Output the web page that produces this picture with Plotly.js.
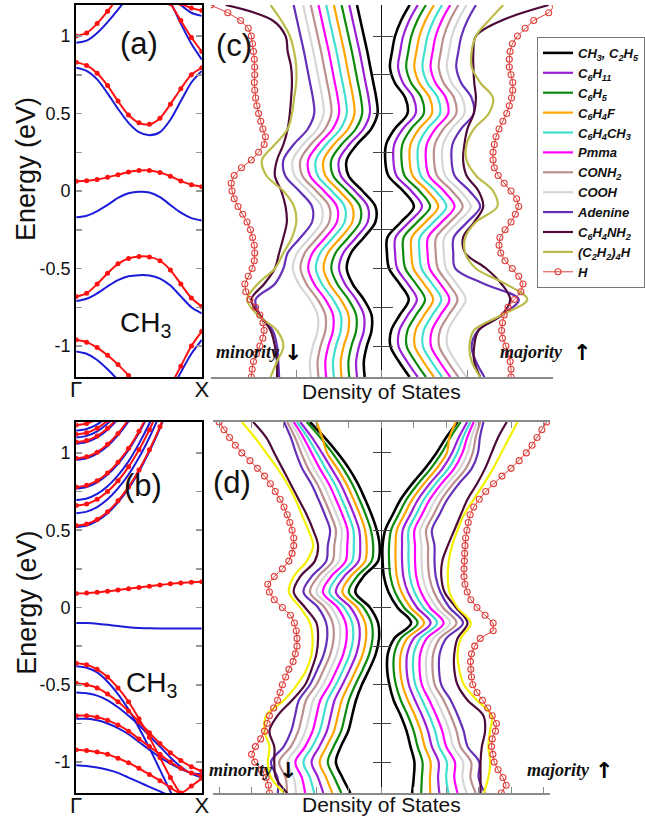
<!DOCTYPE html>
<html><head><meta charset="utf-8">
<script src="https://cdn.plot.ly/plotly-3.0.1.min.js"></script>
<style>html,body{margin:0;padding:0;background:#fff}#chart{width:645px;height:821px}</style>
</head><body><div id="chart"></div>
<script>
// ---------- grids ----------
const energyGrid = [1.2,1.1,1.0,0.9,0.8,0.7,0.6,0.5,0.4,0.3,0.2,0.1,0,-0.1,-0.2,-0.3,-0.4,-0.5,-0.6,-0.7,-0.8,-0.9,-1.0,-1.1,-1.2];
const energyFine = [1.2,1.15,1.1,1.05,1.0,0.95,0.9,0.85,0.8,0.75,0.7,0.65,0.6,0.55,0.5,0.45,0.4,0.35,0.3,0.25,0.2,0.15,0.1,0.05,0,-0.05,-0.1,-0.15,-0.2,-0.25,-0.3,-0.35,-0.4,-0.45,-0.5,-0.55,-0.6,-0.65,-0.7,-0.75,-0.8,-0.85,-0.9,-0.95,-1.0,-1.05,-1.1,-1.15,-1.2];
const kGrid = [0,0.083,0.167,0.25,0.333,0.417,0.5,0.583,0.667,0.75,0.833,0.917,1];
const kTickLabels = ['Γ','X'];

const seriesNames = ['CH<sub>3</sub>, C<sub>2</sub>H<sub>5</sub>','C<sub>6</sub>H<sub>11</sub>','C<sub>6</sub>H<sub>5</sub>','C<sub>6</sub>H<sub>4</sub>F','C<sub>6</sub>H<sub>4</sub>CH<sub>3</sub>','Pmma','CONH<sub>2</sub>','COOH','Adenine','C<sub>6</sub>H<sub>4</sub>NH<sub>2</sub>','(C<sub>2</sub>H<sub>2</sub>)<sub>4</sub>H','H'];

// ---------- band structure (a) ----------
const bandA_redMid = [0.063,0.066,0.074,0.088,0.105,0.122,0.132,0.133,0.12,0.095,0.065,0.04,0.028];
const bandA_blueMid = [-0.17,-0.16,-0.13,-0.09,-0.045,-0.015,-0.005,-0.01,-0.04,-0.09,-0.14,-0.175,-0.19];
const bandA_redCond = [0.83,0.81,0.76,0.68,0.58,0.49,0.44,0.43,0.47,0.56,0.66,0.75,0.795];
const bandA_blueCond = [0.795,0.775,0.72,0.63,0.53,0.44,0.38,0.36,0.38,0.46,0.58,0.70,0.775];
const bandA_redVal = [-0.68,-0.66,-0.6,-0.53,-0.47,-0.435,-0.422,-0.425,-0.45,-0.51,-0.6,-0.69,-0.745];
const bandA_blueVal = [-0.71,-0.695,-0.66,-0.615,-0.575,-0.55,-0.543,-0.545,-0.565,-0.61,-0.68,-0.75,-0.79];
const bandA_redTopL = [1.0,1.02,1.08,1.16,1.25,1.35,1.45];
const bandA_blueTopL = [0.957,0.97,1.02,1.09,1.17,1.26,1.35];
const bandA_redTopR = [1.32,1.21,1.1,0.99,0.9];
const bandA_blueTopR = [1.33,1.22,1.08,0.95,0.848];
const bandA_redTopR2 = [1.25,1.21,1.18,1.165];
const bandA_blueTopR2 = [1.26,1.2,1.15,1.13];
const bandA_redBotL = [-0.96,-0.975,-1.01,-1.06,-1.12,-1.19,-1.27];
const bandA_blueBotL = [-1.035,-1.05,-1.09,-1.15,-1.22,-1.3];
const bandA_redBotR = [-1.26,-1.13,-1.0,-0.905];
const bandA_blueBotR = [-1.3,-1.17,-1.05,-0.96];

// ---------- band structure (b) ----------
const bandB_redFlat = [0.09,0.093,0.098,0.105,0.113,0.122,0.13,0.138,0.146,0.153,0.159,0.163,0.166];
const bandB_blueFlat = [-0.1,-0.101,-0.105,-0.112,-0.12,-0.127,-0.132,-0.135,-0.136,-0.136,-0.136,-0.136,-0.136];
const bandB_redV1 = [-0.36,-0.37,-0.4,-0.45,-0.52,-0.61,-0.72,-0.84,-0.97,-1.1,-1.21,-1.33,-1.45];
const bandB_redV2 = [-0.49,-0.5,-0.52,-0.56,-0.61,-0.67,-0.74,-0.81,-0.88,-0.94,-0.99,-1.03,-1.06];
const bandB_redV3 = [-0.7,-0.7,-0.71,-0.73,-0.76,-0.8,-0.85,-0.9,-0.95,-1.0,-1.04,-1.07,-1.09];
const bandB_redV4 = [-0.92,-0.925,-0.935,-0.95,-0.975,-1.005,-1.04,-1.08,-1.12,-1.165,-1.2,-1.155,-1.105];
const bandB_blueV1 = [-0.38,-0.39,-0.42,-0.48,-0.56,-0.66,-0.78,-0.91,-1.05,-1.19,-1.32];
const bandB_blueV2 = [-0.55,-0.555,-0.57,-0.6,-0.645,-0.7,-0.76,-0.83,-0.9,-0.97,-1.03,-1.075,-1.1];
const bandB_blueV3 = [-0.72,-0.72,-0.73,-0.75,-0.78,-0.82,-0.87,-0.92,-0.97,-1.01,-1.045,-1.07,-1.08];
const bandB_blueV4 = [-1.02,-1.025,-1.035,-1.05,-1.07,-1.1,-1.13,-1.16,-1.19,-1.22];
const bandB_redC1 = [0.53,0.54,0.57,0.62,0.69,0.78,0.89,1.02,1.17,1.35];
const bandB_redC2 = [0.66,0.67,0.70,0.75,0.82,0.91,1.02,1.15,1.30];
const bandB_redC3 = [0.78,0.79,0.82,0.87,0.94,1.03,1.14,1.27];
const bandB_redC4 = [0.965,0.975,1.005,1.056,1.126,1.217,1.33];
const bandB_redC5 = [1.07,1.08,1.11,1.16,1.23,1.32];
const bandB_redC6 = [1.12,1.13,1.16,1.21,1.28];
const bandB_redC7 = [1.18,1.19,1.22,1.27];
const bandB_blueC1 = [0.52,0.53,0.56,0.61,0.68,0.77,0.88,1.01,1.16,1.34];
const bandB_blueC2 = [0.61,0.62,0.65,0.70,0.77,0.86,0.97,1.10,1.25];
const bandB_blueC3 = [0.695,0.705,0.735,0.785,0.855,0.945,1.06,1.19,1.34];
const bandB_blueC4 = [0.77,0.78,0.81,0.86,0.93,1.02,1.13,1.26];
const bandB_blueC5 = [0.955,0.965,0.995,1.045,1.115,1.205,1.32];
const bandB_blueC6 = [1.06,1.07,1.10,1.15,1.22,1.31];
const bandB_blueC7 = [1.10,1.11,1.14,1.19,1.26];
const bandB_blueC8 = [1.145,1.155,1.185,1.235];

// ---------- DOS (c), minority (left) ----------
const cL_CH3 = [-0.58,-0.50,-0.42,-0.34,-0.27,-0.20,-0.13,-0.10,-0.25,-0.58,-0.82,-0.78,-0.45,-0.15,-0.15,-0.42,-0.72,-0.82,-0.68,-0.42,-0.24,-0.24,-0.35,-0.42,-0.40];
const cL_C6H11 = [-0.76,-0.68,-0.60,-0.52,-0.45,-0.38,-0.31,-0.28,-0.43,-0.76,-1.00,-0.96,-0.63,-0.33,-0.33,-0.60,-0.90,-1.00,-0.86,-0.60,-0.42,-0.42,-0.53,-0.60,-0.58];
const cL_C6H5 = [-0.94,-0.86,-0.78,-0.70,-0.63,-0.56,-0.49,-0.46,-0.61,-0.94,-1.18,-1.14,-0.81,-0.51,-0.51,-0.78,-1.08,-1.18,-1.04,-0.78,-0.60,-0.60,-0.71,-0.78,-0.76];
const cL_C6H4F = [-1.12,-1.04,-0.96,-0.88,-0.81,-0.74,-0.67,-0.64,-0.79,-1.12,-1.36,-1.32,-0.99,-0.69,-0.69,-0.96,-1.26,-1.36,-1.22,-0.96,-0.78,-0.78,-0.89,-0.96,-0.94];
const cL_C6H4CH3 = [-1.30,-1.22,-1.14,-1.06,-0.99,-0.92,-0.85,-0.82,-0.97,-1.30,-1.54,-1.50,-1.17,-0.87,-0.87,-1.14,-1.44,-1.54,-1.40,-1.14,-0.96,-0.96,-1.07,-1.14,-1.12];
const cL_Pmma = [-1.48,-1.40,-1.32,-1.24,-1.17,-1.10,-1.03,-1.00,-1.15,-1.48,-1.72,-1.68,-1.35,-1.05,-1.05,-1.32,-1.62,-1.72,-1.58,-1.32,-1.14,-1.14,-1.25,-1.32,-1.30];
const cL_CONH2 = [-1.66,-1.58,-1.50,-1.42,-1.35,-1.28,-1.21,-1.18,-1.33,-1.66,-1.90,-1.86,-1.53,-1.23,-1.23,-1.50,-1.80,-1.90,-1.76,-1.50,-1.32,-1.32,-1.43,-1.50,-1.48];
const cL_COOH = [-1.84,-1.76,-1.68,-1.60,-1.53,-1.46,-1.39,-1.36,-1.51,-1.84,-2.08,-2.04,-1.71,-1.41,-1.41,-1.68,-1.98,-2.08,-1.94,-1.68,-1.50,-1.50,-1.61,-1.68,-1.66];
const cL_Adenine = [-2.06,-1.98,-1.90,-1.82,-1.75,-1.68,-1.61,-1.58,-1.73,-2.06,-2.30,-2.26,-1.93,-1.63,-1.63,-1.90,-2.20,-2.30,-2.50,-2.95,-2.85,-2.55,-2.45,-2.42,-2.40];
const cL_C6H4NH2 = [-3.65,-2.55,-2.25,-2.2,-2.12,-2.1,-2.12,-2.15,-2.2,-2.3,-2.45,-2.5,-2.35,-2.25,-2.22,-2.3,-2.4,-2.5,-2.75,-3.05,-2.85,-2.6,-2.5,-2.45,-2.45];
const cL_C2H2 = [-2.6,-2.35,-2.15,-2.05,-2.0,-2.0,-2.05,-2.1,-2.2,-2.5,-2.8,-2.7,-2.3,-2.05,-2.0,-2.1,-2.3,-2.5,-2.9,-3.15,-2.9,-2.45,-2.3,-2.45,-2.6];
const cL_H = [-4.0,-3.6,-3.3,-3.12,-3.05,-3.02,-3.0,-2.98,-2.97,-2.97,-2.98,-2.97,-2.95,-2.92,-2.88,-2.83,-2.78,-2.72,-2.75,-2.88,-3.05,-3.28,-3.45,-3.52,-3.5,-3.45,-3.36,-3.25,-3.15,-3.07,-3.02,-2.98,-2.97,-2.98,-3.03,-3.12,-3.2,-3.18,-3.08,-2.95,-2.85,-2.78,-2.75,-2.78,-2.85,-2.93,-3.0,-3.03,-3.05];

// ---------- DOS (c), majority (right) ----------
const cR_CH3 = [0.65,0.45,0.31,0.24,0.19,0.30,0.55,0.60,0.30,0.10,0.08,0.15,0.50,0.75,0.45,0.13,0.12,0.17,0.42,0.63,0.42,0.22,0.20,0.40,0.65];
const cR_C6H11 = [0.84,0.64,0.50,0.43,0.38,0.49,0.74,0.79,0.49,0.29,0.27,0.34,0.69,0.94,0.64,0.32,0.31,0.36,0.61,0.82,0.61,0.41,0.39,0.59,0.84];
const cR_C6H5 = [1.03,0.83,0.69,0.62,0.57,0.68,0.93,0.98,0.68,0.48,0.46,0.53,0.88,1.13,0.83,0.51,0.50,0.55,0.80,1.01,0.80,0.60,0.58,0.78,1.03];
const cR_C6H4F = [1.22,1.02,0.88,0.81,0.76,0.87,1.12,1.17,0.87,0.67,0.65,0.72,1.07,1.32,1.02,0.70,0.69,0.74,0.99,1.20,0.99,0.79,0.77,0.97,1.22];
const cR_C6H4CH3 = [1.41,1.21,1.07,1.00,0.95,1.06,1.31,1.36,1.06,0.86,0.84,0.91,1.26,1.51,1.21,0.89,0.88,0.93,1.18,1.39,1.18,0.98,0.96,1.16,1.41];
const cR_Pmma = [1.60,1.40,1.26,1.19,1.14,1.25,1.50,1.55,1.25,1.05,1.03,1.10,1.45,1.70,1.40,1.08,1.07,1.12,1.37,1.58,1.37,1.17,1.15,1.35,1.60];
const cR_CONH2 = [1.79,1.59,1.45,1.38,1.33,1.44,1.69,1.74,1.44,1.24,1.22,1.29,1.64,1.89,1.59,1.27,1.26,1.31,1.56,1.77,1.56,1.36,1.34,1.54,1.79];
const cR_COOH = [1.98,1.78,1.64,1.57,1.52,1.63,1.88,1.93,1.63,1.43,1.41,1.48,1.83,2.08,1.78,1.46,1.45,1.50,1.75,1.96,1.75,1.55,1.53,1.73,1.98];
const cR_Adenine = [2.20,2.00,1.86,1.79,1.74,1.85,2.10,2.15,1.85,1.65,1.63,1.70,2.05,2.30,2.00,1.68,1.67,1.72,2.40,3.20,2.80,2.25,2.10,2.20,2.40];
const cR_C6H4NH2 = [3.9,2.8,2.2,2.14,2.14,2.16,2.2,2.15,2.0,1.93,1.9,1.98,2.26,2.37,2.16,1.9,1.95,2.44,2.8,3.0,2.8,2.26,2.16,2.16,2.3];
const cR_C2H2 = [2.84,2.5,2.2,2.1,2.1,2.3,2.6,2.5,2.15,1.98,1.98,2.2,2.6,2.7,2.2,1.95,1.95,2.2,2.9,3.4,2.8,2.15,2.05,2.1,2.3];
const cR_H = [4.05,3.9,3.55,3.35,3.17,3.05,3.0,2.98,2.98,3.02,3.06,3.06,3.03,2.98,2.92,2.83,2.74,2.67,2.63,2.6,2.6,2.63,2.72,2.86,3.02,3.15,3.2,3.12,3.02,2.88,2.76,2.74,2.78,2.88,3.05,3.2,3.3,3.25,3.1,2.95,2.86,2.82,2.8,2.82,2.9,2.96,3.0,3.02,3.02];

// ---------- DOS (d), minority (left) ----------
const dL_CH3 = [-2.20,-1.75,-1.35,-1.00,-0.72,-0.50,-0.30,-0.14,-0.05,-0.10,-0.55,-0.80,-0.35,-0.10,-0.07,-0.17,-0.37,-0.60,-0.78,-0.90,-1.02,-1.25,-1.40,-1.20,-0.95];
const dL_C6H11 = [-2.50,-2.14,-1.83,-1.54,-1.26,-1.04,-0.84,-0.68,-0.65,-0.70,-1.15,-1.40,-0.95,-0.70,-0.67,-0.77,-0.97,-1.20,-1.44,-1.56,-1.68,-1.91,-2.15,-1.95,-1.79];
const dL_C6H5 = [-2.30,-1.88,-1.51,-1.18,-0.90,-0.68,-0.48,-0.32,-0.25,-0.30,-0.75,-1.00,-0.55,-0.30,-0.27,-0.37,-0.57,-0.80,-1.00,-1.12,-1.24,-1.47,-1.65,-1.45,-1.23];
const dL_C6H4F = [-2.00,-1.82,-1.67,-1.36,-1.08,-0.86,-0.66,-0.50,-0.45,-0.50,-0.95,-1.20,-0.75,-0.50,-0.47,-0.57,-0.77,-1.00,-1.22,-1.34,-1.46,-1.69,-1.90,-1.70,-1.51];
const dL_C6H4CH3 = [-2.60,-2.27,-1.99,-1.72,-1.44,-1.22,-1.02,-0.86,-0.85,-0.90,-1.35,-1.60,-1.15,-0.90,-0.87,-0.97,-1.17,-1.40,-1.66,-1.78,-1.90,-2.13,-2.40,-2.20,-2.07];
const dL_Pmma = [-2.70,-2.40,-2.15,-1.90,-1.62,-1.40,-1.20,-1.04,-1.05,-1.10,-1.55,-1.80,-1.35,-1.10,-1.07,-1.17,-1.37,-1.60,-1.88,-2.00,-2.12,-2.35,-2.65,-2.45,-2.35];
const dL_CONH2 = [-2.90,-2.66,-2.47,-2.26,-1.98,-1.76,-1.56,-1.40,-1.45,-1.50,-1.95,-2.20,-1.75,-1.50,-1.47,-1.57,-1.77,-2.00,-2.32,-2.44,-2.56,-2.79,-3.15,-2.95,-2.91];
const dL_COOH = [-2.80,-2.53,-2.31,-2.08,-1.80,-1.58,-1.38,-1.22,-1.25,-1.30,-1.75,-2.00,-1.55,-1.30,-1.27,-1.37,-1.57,-1.80,-2.10,-2.22,-2.34,-2.57,-2.90,-2.70,-2.63];
const dL_Adenine = [-3.00,-2.79,-2.63,-2.44,-2.16,-1.94,-1.74,-1.58,-1.65,-1.70,-2.15,-2.40,-1.95,-1.70,-1.67,-1.77,-1.97,-2.20,-2.54,-2.66,-2.78,-3.01,-3.40,-3.20,-3.19];
const dL_C6H4NH2 = [-3.95,-3.55,-3.3,-3.05,-2.8,-2.55,-2.3,-2.1,-1.95,-2.05,-2.5,-2.7,-2.35,-2.0,-1.95,-2.0,-2.15,-2.35,-2.75,-3.2,-3.45,-3.3,-3.3,-3.25,-2.9];
const dL_C2H2 = [-4.3,-3.9,-3.55,-3.2,-2.9,-2.65,-2.45,-2.25,-2.1,-2.3,-2.7,-2.85,-2.5,-2.2,-2.12,-2.15,-2.3,-2.6,-3.0,-3.55,-3.6,-3.45,-3.5,-3.4,-3.0];
const dL_H = [-5.0,-4.85,-4.68,-4.5,-4.3,-4.05,-3.82,-3.6,-3.42,-3.27,-3.12,-3.0,-2.9,-2.82,-2.75,-2.7,-2.7,-2.75,-2.85,-3.05,-3.3,-3.5,-3.45,-3.3,-3.05,-2.8,-2.68,-2.62,-2.6,-2.6,-2.65,-2.72,-2.85,-2.95,-3.05,-3.12,-3.2,-3.32,-3.45,-3.52,-3.6,-3.72,-3.88,-4.0,-3.9,-3.7,-3.55,-3.48,-3.45];

// ---------- DOS (d), majority (right) ----------
const dR_CH3 = [2.35,2.00,1.70,1.35,0.95,0.60,0.35,0.12,0.04,0.04,0.08,0.22,0.50,0.92,0.40,0.20,0.18,0.25,0.38,0.60,0.78,0.90,1.02,1.00,0.95];
const dR_C6H11 = [2.65,2.39,2.18,1.89,1.49,1.14,0.89,0.66,0.64,0.64,0.68,0.82,1.10,1.52,1.00,0.80,0.78,0.85,1.04,1.26,1.44,1.56,1.77,1.75,1.79];
const dR_C6H5 = [2.45,2.13,1.86,1.53,1.13,0.78,0.53,0.30,0.24,0.24,0.28,0.42,0.70,1.12,0.60,0.40,0.38,0.45,0.60,0.82,1.00,1.12,1.27,1.25,1.23];
const dR_C6H4F = [2.30,2.10,2.02,1.71,1.31,0.96,0.71,0.48,0.44,0.44,0.48,0.62,0.90,1.32,0.80,0.60,0.58,0.65,0.82,1.04,1.22,1.34,1.52,1.50,1.51];
const dR_C6H4CH3 = [2.75,2.52,2.34,2.07,1.67,1.32,1.07,0.84,0.84,0.84,0.88,1.02,1.30,1.72,1.20,1.00,0.98,1.05,1.26,1.48,1.66,1.78,2.02,2.00,2.07];
const dR_Pmma = [2.85,2.65,2.50,2.25,1.85,1.50,1.25,1.02,1.04,1.04,1.08,1.22,1.50,1.92,1.40,1.20,1.18,1.25,1.48,1.70,1.88,2.00,2.27,2.25,2.35];
const dR_CONH2 = [3.05,2.91,2.82,2.61,2.21,1.86,1.61,1.38,1.44,1.44,1.48,1.62,1.90,2.32,1.80,1.60,1.58,1.65,1.92,2.14,2.32,2.44,2.77,2.75,2.91];
const dR_COOH = [2.95,2.78,2.66,2.43,2.03,1.68,1.43,1.20,1.24,1.24,1.28,1.42,1.70,2.12,1.60,1.40,1.38,1.45,1.70,1.92,2.10,2.22,2.52,2.50,2.63];
const dR_Adenine = [3.15,3.04,2.98,2.79,2.39,2.04,1.79,1.56,1.64,1.64,1.68,1.82,2.10,2.52,2.00,1.80,1.78,1.85,2.14,2.36,2.54,2.66,3.02,3.00,3.19];
const dR_C6H4NH2 = [3.87,3.6,3.4,3.2,2.95,2.66,2.45,2.25,2.05,1.88,1.85,1.95,2.3,2.66,2.35,2.25,2.25,2.35,2.66,3.15,3.2,3.1,3.06,3.06,3.06];
const dR_C2H2 = [4.2,3.95,3.7,3.45,3.16,2.85,2.55,2.35,2.18,2.08,2.05,2.1,2.35,2.76,2.45,2.35,2.4,2.55,2.95,3.4,3.35,3.3,3.36,3.3,3.16];
const dR_H = [5.1,4.95,4.8,4.65,4.47,4.25,4.0,3.72,3.46,3.22,3.02,2.85,2.74,2.68,2.64,2.6,2.58,2.57,2.56,2.55,2.55,2.58,2.65,2.76,2.95,3.2,3.45,3.45,3.05,2.88,2.78,2.75,2.76,2.78,2.82,2.95,3.12,3.28,3.42,3.55,3.52,3.42,3.4,3.44,3.48,3.6,3.75,3.85,3.7];

// ---------- styles ----------
const colorsC = ['#000000','#9a1fd6','#0b8a0b','#ffa500','#40e0d0','#ff00ff','#bc8f8f','#d6d6d6','#6430b8','#4e0a38','#bcbc4a','#e0403c'];
const colorsD = ['#000000','#9a1fd6','#0b8a0b','#ffa500','#40e0d0','#ff00ff','#bc8f8f','#d6d6d6','#6430b8','#4e0a38','#f5f000','#e0403c'];
const RED = '#ff1010', BLUE = '#1c1cd8';
const SANS = 'Liberation Sans, Arial, sans-serif';

const traces = [];

const dosPanels = [
  {xa:'x3', ya:'y3', colors:colorsC, legend:true, lines:[cL_CH3,cL_C6H11,cL_C6H5,cL_C6H4F,cL_C6H4CH3,cL_Pmma,cL_CONH2,cL_COOH,cL_Adenine,cL_C6H4NH2,cL_C2H2], h:cL_H},
  {xa:'x3', ya:'y3', colors:colorsC, legend:false, lines:[cR_CH3,cR_C6H11,cR_C6H5,cR_C6H4F,cR_C6H4CH3,cR_Pmma,cR_CONH2,cR_COOH,cR_Adenine,cR_C6H4NH2,cR_C2H2], h:cR_H},
  {xa:'x4', ya:'y4', colors:colorsD, legend:false, lines:[dL_CH3,dL_C6H11,dL_C6H5,dL_C6H4F,dL_C6H4CH3,dL_Pmma,dL_CONH2,dL_COOH,dL_Adenine,dL_C6H4NH2,dL_C2H2], h:dL_H},
  {xa:'x4', ya:'y4', colors:colorsD, legend:false, lines:[dR_CH3,dR_C6H11,dR_C6H5,dR_C6H4F,dR_C6H4CH3,dR_Pmma,dR_CONH2,dR_COOH,dR_Adenine,dR_C6H4NH2,dR_C2H2], h:dR_H}
];
dosPanels.forEach(p => {
  p.lines.forEach((vals, i) => {
    traces.push({type:'scatter', mode:'lines', x:vals, y:energyGrid, xaxis:p.xa, yaxis:p.ya,
      name:'<b><i>'+seriesNames[i]+'</i></b>', showlegend:p.legend, hoverinfo:'skip',
      line:{color:p.colors[i], width:(i===0?2.6:2.2), shape:'spline', smoothing:1}});
  });
  traces.push({type:'scatter', mode:'lines+markers', x:p.h, y:energyFine, xaxis:p.xa, yaxis:p.ya,
    name:'<b><i>'+seriesNames[11]+'</i></b>', showlegend:p.legend, hoverinfo:'skip',
    line:{color:p.colors[11], width:1},
    marker:{symbol:'circle-open', size:6, color:p.colors[11], line:{width:1.1, color:p.colors[11]}}});
});

function band(xs, ys, isRed, xa, ya){
  traces.push({type:'scatter', mode: isRed ? 'lines+markers':'lines', x:xs, y:ys, xaxis:xa, yaxis:ya,
    showlegend:false, hoverinfo:'skip',
    line:{color: isRed?RED:BLUE, width:2, shape:'spline', smoothing:0.8},
    marker:{size:5, color:RED}});
}
// (a)
band(kGrid, bandA_blueMid, false, 'x','y');
band(kGrid, bandA_blueCond, false, 'x','y');
band(kGrid, bandA_blueVal, false, 'x','y');
band(kGrid.slice(0,7), bandA_blueTopL, false, 'x','y');
band(kGrid.slice(8), bandA_blueTopR, false, 'x','y');
band(kGrid.slice(9), bandA_blueTopR2, false, 'x','y');
band(kGrid.slice(0,6), bandA_blueBotL, false, 'x','y');
band(kGrid.slice(9), bandA_blueBotR, false, 'x','y');
band(kGrid, bandA_redMid, true, 'x','y');
band(kGrid, bandA_redCond, true, 'x','y');
band(kGrid, bandA_redVal, true, 'x','y');
band(kGrid.slice(0,7), bandA_redTopL, true, 'x','y');
band(kGrid.slice(8), bandA_redTopR, true, 'x','y');
band(kGrid.slice(9), bandA_redTopR2, true, 'x','y');
band(kGrid.slice(0,7), bandA_redBotL, true, 'x','y');
band(kGrid.slice(9), bandA_redBotR, true, 'x','y');
// (b)
[bandB_blueFlat,bandB_blueV1,bandB_blueV2,bandB_blueV3,bandB_blueV4,bandB_blueC1,bandB_blueC2,bandB_blueC3,bandB_blueC4,bandB_blueC5,bandB_blueC6,bandB_blueC7,bandB_blueC8]
  .forEach(v => band(kGrid.slice(0, v.length), v, false, 'x2','y2'));
[bandB_redFlat,bandB_redV1,bandB_redV2,bandB_redV3,bandB_redV4,bandB_redC1,bandB_redC2,bandB_redC3,bandB_redC4,bandB_redC5,bandB_redC6,bandB_redC7]
  .forEach(v => band(kGrid.slice(0, v.length), v, true, 'x2','y2'));

// ---------- layout ----------
const eTicks = [-1,-0.75,-0.5,-0.25,0,0.25,0.5,0.75,1];
const eTickText = ['-1','','-0.5','','0','','0.5','','1'];
const domA = [0.5408, 0.9939], domB = [0.0341, 0.486];
function bandX(ya){ return {domain:[0.1194,0.3163], anchor:ya, range:[0,1], tickvals:[0,1], ticktext:kTickLabels,
  ticks:'', ticklabelstandoff:-8, showline:true, linecolor:'#000', linewidth:2, mirror:true, showgrid:false, zeroline:false,
  tickfont:{family:SANS, size:22, color:'#111'}}; }
function bandY(xa, dom){ return {domain:dom, anchor:xa, range:[-1.2,1.2], tickvals:eTicks, ticktext:eTickText,
  ticks:'inside', ticklen:6, tickcolor:'#999', tickwidth:1.5, mirror:'allticks', showline:true, linecolor:'#000', linewidth:2,
  showgrid:false, zeroline:false, tickfont:{family:SANS, size:18, color:'#111'}}; }

function note(text, xref, yref, x, y, font, extra){
  return Object.assign({text:text, xref:xref, yref:yref, x:x, y:y, xanchor:'center', yanchor:'middle', showarrow:false, font:font}, extra||{});
}
const fPanel = {family:SANS, size:31, color:'#111'};
const fCH = {family:SANS, size:28, color:'#111'};
const fSpin = {family:'Liberation Serif, serif', size:18, color:'#111'};
const fArrow = {family:'DejaVu Sans', size:22, color:'#000'};

const layout = {
  width:645, height:821, margin:{l:0,r:0,t:0,b:0}, paper_bgcolor:'#fff', plot_bgcolor:'rgba(0,0,0,0)',
  font:{family:SANS, color:'#111'},
  xaxis: bandX('y'), yaxis: bandY('x', domA),
  xaxis2: bandX('y2'), yaxis2: bandY('x2', domB),
  xaxis3: {domain:[0.3302,0.8667], anchor:'y3', range:[-4,4], tickvals:[-4,-2,0,2,4], ticks:'inside', ticklen:7, tickcolor:'#888',
    showline:true, linecolor:'#8a8a8a', linewidth:1.5, showticklabels:false, showgrid:false,
    zeroline:true, zerolinecolor:'#111', zerolinewidth:1.3},
  xaxis5: {overlaying:'x3', side:'top', anchor:'y3', range:[-4,4], tickvals:[-3,3], ticks:'inside', ticklen:7, tickcolor:'#888',
    showline:true, linecolor:'#8a8a8a', linewidth:1.5, showticklabels:false, showgrid:false, zeroline:false},
  yaxis3: {domain:domA, anchor:'free', position:0.5829, range:[-1.2,1.2], tickvals:eTicks, ticks:'inside', ticklen:20,
    tickcolor:'#444', tickwidth:1, showline:false, showticklabels:false, showgrid:false, zeroline:false},
  xaxis4: {domain:[0.3333,0.862], anchor:'y4', range:[-5.2,5.2], tickvals:[-5,-4,-3,-2,-1,0,1,2,3,4,5], ticks:'inside', ticklen:6, tickcolor:'#888',
    showline:true, linecolor:'#8a8a8a', linewidth:1.5, mirror:'allticks', showticklabels:false, showgrid:false,
    zeroline:true, zerolinecolor:'#111', zerolinewidth:1.3},
  yaxis4: {domain:domB, anchor:'free', position:0.5837, range:[-1.2,1.2], tickvals:eTicks, ticks:'inside', ticklen:18,
    tickcolor:'#444', tickwidth:1, showline:false, showticklabels:false, showgrid:false, zeroline:false},
  showlegend:true,
  legend:{x:0.842, y:0.955, xanchor:'left', yanchor:'top', bgcolor:'#fff', bordercolor:'#777', borderwidth:1,
    font:{family:SANS, size:13, color:'#111'}, tracegroupgap:0, itemwidth:30, traceorder:'normal'},
  annotations:[
    note('(a)', 'x', 'y', 0.5, 0.95, fPanel),
    note('CH<sub>3</sub>', 'x', 'y', 0.55, -0.86, fCH),
    note('(b)', 'x2', 'y2', 0.53, 0.79, fPanel),
    note('CH<sub>3</sub>', 'x2', 'y2', 0.6, -0.5, fCH),
    note('(c)', 'paper', 'paper', 0.366, 0.945, fPanel),
    note('(d)', 'paper', 'paper', 0.363, 0.412, fPanel),
    note('Energy (eV)', 'paper', 'y', 0.042, 0.14, {family:SANS, size:27, color:'#111'}, {textangle:-90}),
    note('Energy (eV)', 'paper', 'y2', 0.042, 0.03, {family:SANS, size:27, color:'#111'}, {textangle:-90}),
    note('Density of States', 'paper', 'paper', 0.598, 0.523, {family:SANS, size:21, color:'#111'}),
    note('Density of States', 'paper', 'paper', 0.598, 0.0195, {family:SANS, size:21, color:'#111'}),
    note('<b><i>minority</i></b>', 'paper', 'paper', 0.336, 0.571, fSpin, {xanchor:'left'}),
    note('<b>↓</b>', 'paper', 'paper', 0.459, 0.571, fArrow),
    note('<b><i>majority</i></b>', 'paper', 'paper', 0.781, 0.571, fSpin, {xanchor:'left'}),
    note('<b>↑</b>', 'paper', 'paper', 0.912, 0.571, fArrow),
    note('<b><i>minority</i></b>', 'paper', 'paper', 0.324, 0.062, fSpin, {xanchor:'left'}),
    note('<b>↓</b>', 'paper', 'paper', 0.452, 0.062, fArrow),
    note('<b><i>majority</i></b>', 'paper', 'paper', 0.823, 0.062, fSpin, {xanchor:'left'}),
    note('<b>↑</b>', 'paper', 'paper', 0.946, 0.062, fArrow)
  ]
};

Plotly.newPlot('chart', traces, layout, {staticPlot:true, displayModeBar:false});
</script>
</body></html>
